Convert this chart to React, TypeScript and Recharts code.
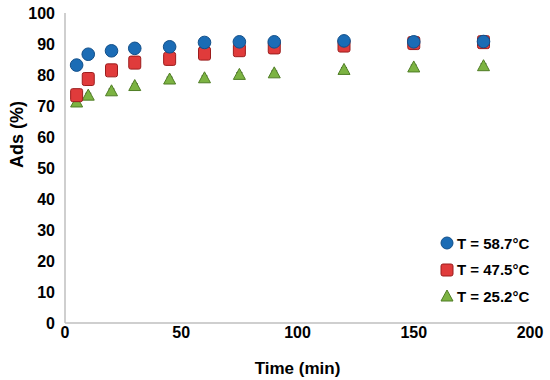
import { ErrorBar, Scatter, ScatterChart, XAxis, YAxis } from 'recharts'

const times = [5, 10, 20, 30, 45, 60, 75, 90, 120, 150, 180]
const adsHigh = [83.2, 86.7, 87.8, 88.6, 89.1, 90.5, 90.7, 90.7, 91, 90.7, 90.8]
const adsMid = [73.5, 78.7, 81.5, 84, 85.2, 86.9, 88, 88.9, 89.5, 90.3, 90.6]
const adsLow = [71.3, 73.5, 74.9, 76.6, 78.7, 79.1, 80.2, 80.7, 81.8, 82.6, 83]
const errHigh = [0.5, 0.5, 0.5, 0.5, 0.5, 0.6, 0.6, 0.6, 0.6, 0.6, 0.6]
const errMid = [0.8, 1.2, 1.2, 1.2, 1.2, 1.3, 1.3, 1.3, 1.3, 1.2, 1.2]
const errLow = [0.6, 0.6, 0.6, 0.6, 0.6, 0.6, 0.6, 0.6, 0.6, 0.6, 0.6]
const xTicks = [0, 50, 100, 150, 200]
const yTicks = [0, 10, 20, 30, 40, 50, 60, 70, 80, 90, 100]

const seriesNames = ['T = 58.7°C', 'T = 47.5°C', 'T = 25.2°C']

const toPoints = (ys: number[], errs: number[]) =>
  times.map((t, i) => ({ time: t, ads: ys[i], err: errs[i] }))

const font = 'Arial, "Liberation Sans", sans-serif'

const BLUE = '#1b6cb5'
const BLUE_EDGE = '#114f8a'
const RED = '#e03b3b'
const RED_EDGE = '#9c1c1c'
const GREEN = '#7cb342'
const GREEN_EDGE = '#4f7d25'

function Circle(props: any) {
  const { cx, cy } = props
  return <circle cx={cx} cy={cy} r={6.3} fill={BLUE} stroke={BLUE_EDGE} strokeWidth={1} />
}

function Square(props: any) {
  const { cx, cy } = props
  return <rect x={cx - 6} y={cy - 6.5} width={12} height={13} rx={2} fill={RED} stroke={RED_EDGE} strokeWidth={1} />
}

function Triangle(props: any) {
  const { cx, cy } = props
  return (
    <polygon
      points={`${cx},${cy - 6} ${cx + 6},${cy + 5} ${cx - 6},${cy + 5}`}
      fill={GREEN}
      stroke={GREEN_EDGE}
      strokeWidth={1}
    />
  )
}

function LegendBox() {
  const icons = [
    <circle cx={7} cy={8} r={6} fill={BLUE} stroke={BLUE_EDGE} />,
    <rect x={1} y={2} width={12} height={12} rx={2} fill={RED} stroke={RED_EDGE} />,
    <polygon points="7,2 13,13 1,13" fill={GREEN} stroke={GREEN_EDGE} />,
  ]
  return (
    <div
      style={{
        position: 'absolute',
        left: 440,
        top: 230,
        fontFamily: font,
        fontWeight: 'bold',
        fontSize: 15,
        color: '#000',
      }}
    >
      {seriesNames.map((name, i) => (
        <div key={name} style={{ display: 'flex', alignItems: 'center', height: 26.5 }}>
          <svg width={15} height={16} style={{ marginRight: 2 }}>
            {icons[i]}
          </svg>
          <span>{name}</span>
        </div>
      ))}
    </div>
  )
}

export default function App() {
  return (
    <div style={{ position: 'absolute', left: 0, top: 0, width: 550, height: 380, background: '#fff' }}>
      <ScatterChart width={550} height={380} margin={{ top: 13, right: 20, bottom: 0, left: 0 }}>
        <XAxis
          type="number"
          dataKey="time"
          domain={[0, 200]}
          ticks={xTicks}
          height={57}
          axisLine={{ stroke: '#bfbfbf', strokeWidth: 1.5 }}
          tickLine={false}
          tickSize={4}
          tickMargin={0}
          tick={{ fill: '#000', fontSize: 16, fontWeight: 'bold', fontFamily: font }}
          label={{
            value: 'Time (min)',
            position: 'insideBottom',
            offset: 6,
            fill: '#000',
            fontSize: 17,
            fontWeight: 'bold',
            fontFamily: font,
          }}
        />
        <YAxis
          type="number"
          dataKey="ads"
          domain={[0, 100]}
          ticks={yTicks}
          width={65}
          axisLine={{ stroke: '#bfbfbf', strokeWidth: 1.5 }}
          tickLine={false}
          tickSize={6}
          tickMargin={4}
          tick={{ fill: '#000', fontSize: 16, fontWeight: 'bold', fontFamily: font }}
          label={{
            value: 'Ads (%)',
            angle: -90,
            position: 'insideLeft',
            offset: 17,
            fill: '#000',
            fontSize: 18,
            fontWeight: 'bold',
            fontFamily: font,
          }}
        />
        <Scatter name={seriesNames[2]} data={toPoints(adsLow, errLow)} shape={<Triangle />} isAnimationActive={false}>
          <ErrorBar dataKey="err" direction="y" width={3} stroke="#333" strokeWidth={1} />
        </Scatter>
        <Scatter name={seriesNames[1]} data={toPoints(adsMid, errMid)} shape={<Square />} isAnimationActive={false}>
          <ErrorBar dataKey="err" direction="y" width={3} stroke="#333" strokeWidth={1} />
        </Scatter>
        <Scatter name={seriesNames[0]} data={toPoints(adsHigh, errHigh)} shape={<Circle />} isAnimationActive={false}>
          <ErrorBar dataKey="err" direction="y" width={3} stroke="#333" strokeWidth={1} />
        </Scatter>
      </ScatterChart>
      <LegendBox />
    </div>
  )
}
